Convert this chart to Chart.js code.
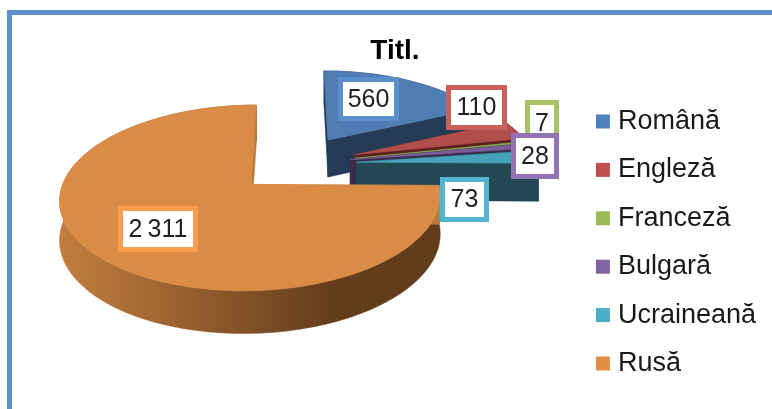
<!DOCTYPE html>
<html>
<head>
<meta charset="utf-8">
<style>
  html, body { margin: 0; padding: 0; background: #fff; overflow: hidden; }
  #frame { position: absolute; left: 7px; top: 10px; right: 0; bottom: 0; border-left: 5px solid #5f8fc9; border-top: 5px solid #5f8fc9; }
  #meuCanvas { position: absolute; left: 0; top: 0; }
</style>
<script src="https://cdn.jsdelivr.net/npm/chart.js@4"></script>
</head>
<body>
<canvas id="meuCanvas" width="772" height="409"></canvas>
<div id="frame"></div>
<script>
const categories = ['Română', 'Engleză', 'Franceză', 'Bulgară', 'Ucraineană', 'Rusă'];
const values = [560, 110, 7, 28, 73, 2311];
const explosion = [35, 35, 34, 31, 34, 33];

const topColors = ['#4f7db3', '#b14f4c', '#8ea655', '#7a5c99', '#45a2b8', '#da8b45'];
const sideColors = ['#243b57', '#5c1f1e', '#4c5a28', '#3a2b4c', '#234853', '#7d4f25'];
const legendColors = ['#4f81bd', '#c0504d', '#9bbb59', '#8064a2', '#4bacc6', '#e28e44'];
const labelBorders = ['#5b8fcb', '#c9605c', '#a6c463', '#9273b3', '#53b4cf', '#fa9d4f'];

// label boxes as left, top, width, height, they were placed by hand in the original
const labelBoxes = [
    [338, 77, 61, 44],
    [446, 85, 61, 45],
    [525, 100, 34, 46],
    [511, 133, 48, 46],
    [440, 177, 49, 45],
    [118, 206, 80, 46],
];

// flat perspective of the pie plane
const view = { cx: 295, cy: 164, rx: 182, ry: 85, persp: 0.141, depth: 38 };

const project = (u, v, down) => {
    const s = 1 / (1 - view.persp * v);
    const d = down ? view.depth / (1 - 0.09 * v) : 0;
    return [view.cx + view.rx * u * s, view.cy + view.ry * v * s + d];
};

const fillPoly = (ctx, points, fill) => {
    ctx.beginPath();
    points.forEach((p, i) => (i ? ctx.lineTo(p[0], p[1]) : ctx.moveTo(p[0], p[1])));
    ctx.closePath();
    ctx.fillStyle = fill;
    ctx.fill();
    ctx.strokeStyle = fill;
    ctx.lineWidth = 0.6;
    ctx.stroke();
};

const formatValue = (v) => String(v).replace(/\B(?=(\d{3})+$)/, '\u2009');

const pie3d = {
    id: 'pie3d',
    beforeDatasetDraw(chart, args) {
        const ctx = chart.ctx;
        const meta = args.meta;

        meta.data.forEach((arc, i) => {
            const { startAngle, endAngle } = arc.getProps(['startAngle', 'endAngle'], true);
            const mid = (startAngle + endAngle) / 2;
            const e = arc.options.offset / 100;
            const ax = e * Math.cos(mid);
            const ay = e * Math.sin(mid);

            const rim = [];
            const steps = Math.max(4, Math.ceil((endAngle - startAngle) * 40));
            for (let k = 0; k <= steps; k++) {
                const a = startAngle + (endAngle - startAngle) * k / steps;
                rim.push([ax + Math.cos(a), ay + Math.sin(a)]);
            }
            const first = rim[0];
            const last = rim[rim.length - 1];

            let side = sideColors[i];
            if (i === 5) {
                side = ctx.createLinearGradient(62, 0, 335, 0);
                side.addColorStop(0, '#c27d3e');
                side.addColorStop(1, '#633c1c');
            }

            // outer wall
            const wall = rim.map((p) => project(p[0], p[1], false))
                .concat(rim.slice().reverse().map((p) => project(p[0], p[1], true)));
            fillPoly(ctx, wall, side);

            // the two cut faces
            [first, last].forEach((p) => {
                fillPoly(ctx, [
                    project(ax, ay, false), project(p[0], p[1], false),
                    project(p[0], p[1], true), project(ax, ay, true),
                ], i === 5 ? '#b97a3c' : sideColors[i]);
            });

            // top face
            fillPoly(ctx, [project(ax, ay, false)].concat(rim.map((p) => project(p[0], p[1], false))), topColors[i]);
        });

        ctx.save();
        ctx.font = '25px "Liberation Sans"';
        ctx.textAlign = 'center';
        ctx.textBaseline = 'middle';
        labelBoxes.forEach((box, i) => {
            const [x, y, w, h] = box;
            ctx.fillStyle = labelBorders[i];
            ctx.fillRect(x, y, w, h);
            ctx.fillStyle = '#fff';
            ctx.fillRect(x + 5, y + 5, w - 10, h - 10);
            ctx.fillStyle = '#222';
            ctx.fillText(formatValue(values[i]), x + w / 2, y + h / 2 + 1);
        });
        ctx.restore();

        return false;
    },
};

new Chart(document.getElementById('meuCanvas'), {
    type: 'pie',
    data: {
        labels: categories,
        datasets: [
            {
                data: values,
                backgroundColor: legendColors,
                borderWidth: 0,
                offset: explosion,
            },
        ],
    },
    options: {
        responsive: false,
        animation: false,
        layout: {
            padding: { left: 24, right: 6, top: 34, bottom: -42 },
        },
        plugins: {
            title: {
                display: true,
                text: 'Titl.',
                color: '#000',
                font: { family: '"Liberation Sans"', size: 28, weight: 'bold' },
                padding: { top: 0, bottom: 0 },
            },
            legend: {
                display: true,
                position: 'right',
                labels: {
                    usePointStyle: true,
                    pointStyle: 'rect',
                    boxWidth: 3,
                    boxHeight: 14,
                    padding: 21.4,
                    color: '#1a1a1a',
                    font: { family: '"Liberation Sans"', size: 27 },
                },
            },
            tooltip: { enabled: false },
        },
    },
    plugins: [pie3d],
});
</script>
</body>
</html>
